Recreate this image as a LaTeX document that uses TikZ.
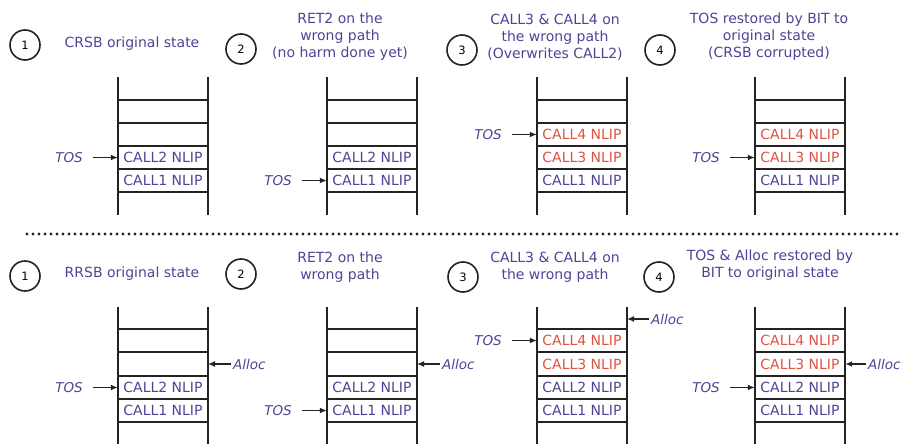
\documentclass[tikz,border=0pt]{standalone}
\usepackage{fontspec}
\setmainfont{DejaVu Sans}
\usetikzlibrary{arrows.meta}
\definecolor{txt}{RGB}{78,68,150}
\definecolor{hot}{RGB}{222,82,66}
\definecolor{ink}{RGB}{35,35,35}
\begin{document}
\begin{tikzpicture}[x=1pt,y=-1pt,
  rail/.style={line width=1.7pt, draw=ink},
  rung/.style={line width=1.6pt, draw=ink},
  cell/.style={minimum width=90pt, minimum height=22pt, inner sep=0pt, text=txt, font=\fontsize{14}{17}\selectfont},
  hotcell/.style={cell, text=hot},
  title/.style={align=center, text=txt, font=\fontsize{14}{17}\selectfont, inner sep=0pt},
  num/.style={circle, draw=ink, line width=1.6pt, minimum size=30pt, inner sep=0pt, font=\fontsize{11.5}{13}\selectfont},
  ptr/.style={text=txt, font=\fontsize{13.5}{16}\selectfont\itshape, inner sep=1pt},
  arr/.style={-{Latex[length=7pt,width=6pt]}, line width=1.5pt, draw=ink},
  sep/.style={line width=3.2pt, dash pattern=on 0pt off 6pt, line cap=round, draw=ink},
]
\useasboundingbox (0,0) rectangle (902,444);

% ===================== TOP ROW =====================
% Panel 1
\node[num] (n1) at (25,45) {1};
\node[title] (t1) at (132,44) {CRSB original state};
\draw[rail] (118,77) -- (118,215);
\draw[rail] (208,77) -- (208,215);
\foreach \y in {100,123,146,169,192} \draw[rung] (118,\y) -- (208,\y);
\node[cell] (a1c2) at (163,157.5) {CALL2 NLIP};
\node[cell] (a1c1) at (163,180.5) {CALL1 NLIP};
\node[ptr, anchor=east] (a1tos) at (84,157.5) {TOS};
\draw[arr, shorten <=9pt] (a1tos.east) -- (a1c2.west);

% Panel 2
\node[num] (n2) at (241,49) {2};
\node[title] (t2) at (340,37) {RET2 on the\\wrong path\\(no harm done yet)};
\draw[rail] (327,77) -- (327,215);
\draw[rail] (417,77) -- (417,215);
\foreach \y in {100,123,146,169,192} \draw[rung] (327,\y) -- (417,\y);
\node[cell] (a2c2) at (372,157.5) {CALL2 NLIP};
\node[cell] (a2c1) at (372,180.5) {CALL1 NLIP};
\node[ptr, anchor=east] (a2tos) at (293,180.5) {TOS};
\draw[arr, shorten <=9pt] (a2tos.east) -- (a2c1.west);

% Panel 3
\node[num] (n3) at (462,50) {3};
\node[title] (t3) at (555,37) {CALL3 \& CALL4 on\\the wrong path\\(Overwrites CALL2)};
\draw[rail] (537,77) -- (537,215);
\draw[rail] (627,77) -- (627,215);
\foreach \y in {100,123,146,169,192} \draw[rung] (537,\y) -- (627,\y);
\node[hotcell] (a3c4) at (582,134.5) {CALL4 NLIP};
\node[hotcell] (a3c3) at (582,157.5) {CALL3 NLIP};
\node[cell] (a3c1) at (582,180.5) {CALL1 NLIP};
\node[ptr, anchor=east] (a3tos) at (503,134.5) {TOS};
\draw[arr, shorten <=9pt] (a3tos.east) -- (a3c4.west);

% Panel 4
\node[num] (n4) at (660,50) {4};
\node[title] (t4) at (769,37) {TOS restored by BIT to\\original state\\(CRSB corrupted)};
\draw[rail] (755,77) -- (755,215);
\draw[rail] (845,77) -- (845,215);
\foreach \y in {100,123,146,169,192} \draw[rung] (755,\y) -- (845,\y);
\node[hotcell] (a4c4) at (800,134.5) {CALL4 NLIP};
\node[hotcell] (a4c3) at (800,157.5) {CALL3 NLIP};
\node[cell] (a4c1) at (800,180.5) {CALL1 NLIP};
\node[ptr, anchor=east] (a4tos) at (721,157.5) {TOS};
\draw[arr, shorten <=9pt] (a4tos.east) -- (a4c3.west);

% ===================== SEPARATOR =====================
\coordinate (sepL) at (27,234);
\coordinate (sepR) at (898,234);
\draw[sep] (sepL) -- (sepR);

% ===================== BOTTOM ROW =====================
% Panel 1
\node[num] (m1) at (25,276) {1};
\node[title] (u1) at (132,274) {RRSB original state};
\draw[rail] (118,307) -- (118,444);
\draw[rail] (208,307) -- (208,444);
\foreach \y in {329,352,376,399,422} \draw[rung] (118,\y) -- (208,\y);
\node[cell] (b1c2) at (163,387.5) {CALL2 NLIP};
\node[cell] (b1c1) at (163,410.5) {CALL1 NLIP};
\coordinate (b1e) at (208,364);
\node[ptr, anchor=east] (b1tos) at (84,387.5) {TOS};
\draw[arr, shorten <=9pt] (b1tos.east) -- (b1c2.west);
\node[ptr, anchor=west] (b1al) at (232,364) {Alloc};
\draw[arr, shorten <=1pt] (b1al.west) -- (b1e);

% Panel 2
\node[num] (m2) at (241,274) {2};
\node[title] (u2) at (340,267) {RET2 on the\\wrong path};
\draw[rail] (327,307) -- (327,444);
\draw[rail] (417,307) -- (417,444);
\foreach \y in {329,352,376,399,422} \draw[rung] (327,\y) -- (417,\y);
\node[cell] (b2c2) at (372,387.5) {CALL2 NLIP};
\node[cell] (b2c1) at (372,410.5) {CALL1 NLIP};
\coordinate (b2e) at (417,364);
\node[ptr, anchor=east] (b2tos) at (293,410.5) {TOS};
\draw[arr, shorten <=9pt] (b2tos.east) -- (b2c1.west);
\node[ptr, anchor=west] (b2al) at (441,364) {Alloc};
\draw[arr, shorten <=1pt] (b2al.west) -- (b2e);

% Panel 3
\node[num] (m3) at (463,277) {3};
\node[title] (u3) at (555,267) {CALL3 \& CALL4 on\\the wrong path};
\draw[rail] (537,307) -- (537,444);
\draw[rail] (627,307) -- (627,444);
\foreach \y in {329,352,376,399,422} \draw[rung] (537,\y) -- (627,\y);
\node[hotcell] (b3c4) at (582,340.5) {CALL4 NLIP};
\node[hotcell] (b3c3) at (582,364) {CALL3 NLIP};
\node[cell] (b3c2) at (582,387.5) {CALL2 NLIP};
\node[cell] (b3c1) at (582,410.5) {CALL1 NLIP};
\coordinate (b3e) at (627,319);
\node[ptr, anchor=east] (b3tos) at (503,340.5) {TOS};
\draw[arr, shorten <=9pt] (b3tos.east) -- (b3c4.west);
\node[ptr, anchor=west] (b3al) at (650,319) {Alloc};
\draw[arr, shorten <=1pt] (b3al.west) -- (b3e);

% Panel 4
\node[num] (m4) at (659,277) {4};
\node[title] (u4) at (770,265) {TOS \& Alloc restored by\\BIT to original state};
\draw[rail] (755,307) -- (755,444);
\draw[rail] (845,307) -- (845,444);
\foreach \y in {329,352,376,399,422} \draw[rung] (755,\y) -- (845,\y);
\node[hotcell] (b4c4) at (800,340.5) {CALL4 NLIP};
\node[hotcell] (b4c3) at (800,364) {CALL3 NLIP};
\node[cell] (b4c2) at (800,387.5) {CALL2 NLIP};
\node[cell] (b4c1) at (800,410.5) {CALL1 NLIP};
\node[ptr, anchor=east] (b4tos) at (721,387.5) {TOS};
\draw[arr, shorten <=9pt] (b4tos.east) -- (b4c2.west);
\node[ptr, anchor=west] (b4al) at (867,364) {Alloc};
\draw[arr, shorten <=1pt] (b4al.west) -- (b4c3.east);
\end{tikzpicture}
\end{document}
